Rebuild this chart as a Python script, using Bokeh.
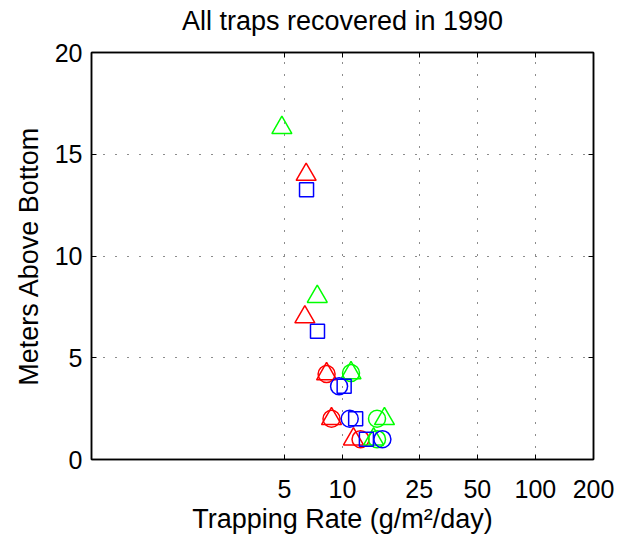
from bokeh.plotting import figure
from bokeh.models import Range1d, FixedTicker, LogAxis, LinearAxis
from bokeh.embed import file_html
from bokeh.resources import INLINE

# ---- data ----
title_text = "All traps recovered in 1990"
x_ticks = [5, 10, 25, 50, 100, 200]
y_ticks = [0, 5, 10, 15, 20]

red_tri_x = [6.48, 6.38, 8.27, 8.77, 11.4]
red_tri_y = [14.0, 7.0, 4.2, 2.0, 1.0]
red_circ_x = [8.27, 8.77, 12.4]
red_circ_y = [4.2, 2.0, 1.0]

green_tri_x = [4.85, 7.4, 11.07, 16.5, 14.5]
green_tri_y = [16.3, 8.0, 4.25, 2.0, 1.0]
green_circ_x = [11.07, 15.1, 15.1]
green_circ_y = [4.25, 2.0, 1.0]

blue_sq_x = [6.51, 7.42, 10.2, 11.7, 13.3]
blue_sq_y = [13.25, 6.3, 3.6, 2.0, 1.0]
blue_circ_x = [9.6, 10.9, 16.1]
blue_circ_y = [3.6, 2.0, 1.0]

FONT = "Liberation Sans"
TICK_FS = "25px"
LABEL_FS = "27px"

W, H = 620, 540
p = figure(width=W, height=H, x_axis_type="log",
           x_range=Range1d(0.5, 200), y_range=Range1d(0, 20),
           output_backend="svg", toolbar_location=None,
           min_border_left=91, min_border_right=W - 593,
           min_border_top=52, min_border_bottom=H - 459)

p.outline_line_color = "black"
p.outline_line_width = 1.5
p.background_fill_color = "white"
p.border_fill_color = "white"

def style_axis(ax, ticks, show_labels, standoff=8):
    ax.ticker = FixedTicker(ticks=ticks)
    ax.axis_line_color = "black"
    ax.axis_line_width = 1.5
    ax.major_tick_in = 5
    ax.major_tick_out = 0
    ax.major_tick_line_color = "black"
    ax.major_tick_line_width = 1
    ax.minor_tick_line_color = None
    ax.major_label_text_font = FONT
    ax.axis_label_text_font = FONT
    ax.axis_label_text_font_size = LABEL_FS
    ax.axis_label_text_font_style = "normal"
    ax.axis_label_text_color = "black"
    ax.major_label_text_color = "black"
    if show_labels:
        ax.major_label_text_font_size = TICK_FS
        ax.major_label_standoff = standoff
    else:
        ax.major_label_overrides = {t: "" for t in ticks}
        ax.major_label_text_font_size = "1px"
        ax.major_label_standoff = 0

style_axis(p.xaxis[0], x_ticks, True, 20)
style_axis(p.yaxis[0], y_ticks, True, 9)
p.xaxis[0].axis_label = "Trapping Rate (g/m\u00b2/day)"
p.xaxis[0].axis_label_standoff = 3
p.yaxis[0].axis_label = "Meters Above Bottom"
p.yaxis[0].axis_label_standoff = 8

# top axis carries the title as its label
top_ax = LogAxis()
style_axis(top_ax, x_ticks, False)
top_ax.axis_label = title_text
top_ax.axis_label_standoff = 17
p.add_layout(top_ax, "above")
right_ax = LinearAxis()
style_axis(right_ax, y_ticks, False)
p.add_layout(right_ax, "right")

p.xgrid.ticker = FixedTicker(ticks=x_ticks)
p.ygrid.ticker = FixedTicker(ticks=y_ticks)
for g in (p.xgrid, p.ygrid):
    g.grid_line_color = "black"
    g.grid_line_dash = "1 11"
    g.grid_line_width = 1
    g.grid_line_alpha = 0.9

LW = 1.5
TRI, CIRC, SQ = 20, 17, 14
p.scatter(red_tri_x, red_tri_y, marker="triangle", size=TRI, fill_color=None,
          line_color="#ff0000", line_width=LW)
p.scatter(red_circ_x, red_circ_y, marker="circle", size=CIRC, fill_color=None,
          line_color="#ff0000", line_width=LW)
p.scatter(green_tri_x, green_tri_y, marker="triangle", size=TRI, fill_color=None,
          line_color="#00ff00", line_width=LW)
p.scatter(green_circ_x, green_circ_y, marker="circle", size=CIRC, fill_color=None,
          line_color="#00ff00", line_width=LW)
p.scatter(blue_sq_x, blue_sq_y, marker="square", size=SQ, fill_color=None,
          line_color="#0000ff", line_width=LW)
p.scatter(blue_circ_x, blue_circ_y, marker="circle", size=CIRC, fill_color=None,
          line_color="#0000ff", line_width=LW)

open("out.html", "w").write(file_html(p, INLINE))
